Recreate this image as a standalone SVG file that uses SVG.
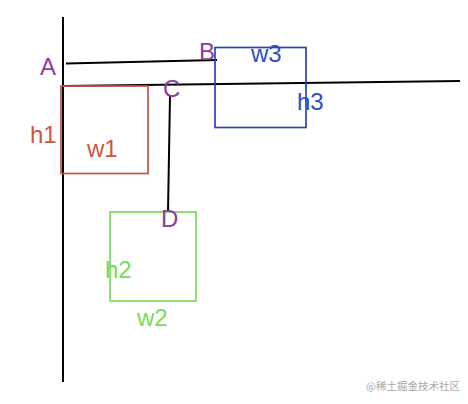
<svg xmlns="http://www.w3.org/2000/svg" width="468" height="404" viewBox="0 0 468 404">
<style>
.ln{stroke:#000;stroke-width:2;fill:none}
.box{fill:none;stroke-width:1.7}
.t{font-family:"Liberation Sans",Arial,sans-serif;font-size:24px}
.pt{fill:#8b3d9c}
.wm{font-family:"Noto Sans CJK SC","Liberation Sans",sans-serif;font-size:10.5px;fill:#a8a8a8}
</style>
<rect width="468" height="404" fill="#fff"/>
<g id="connectors">
<line class="ln" x1="63" y1="17" x2="63" y2="382"/>
<line class="ln" x1="63" y1="86" x2="460" y2="81"/>
<line class="ln" x1="66" y1="63.5" x2="217" y2="60"/>
<line class="ln" x1="170" y1="96" x2="168" y2="212"/>
</g>
<g id="box1">
<rect class="box" x="61" y="86" width="87" height="87.5" stroke="#c4533f"/>
<text class="t" x="30" y="143" fill="#d0553f">h1</text>
<text class="t" x="87" y="157" fill="#d0553f">w1</text>
</g>
<g id="box3">
<rect class="box" x="215" y="47.5" width="91" height="80" stroke="#2746b0"/>
<text class="t" x="251" y="62" fill="#2e4fc4">w3</text>
<text class="t" x="297" y="110" fill="#2e4fc4">h3</text>
</g>
<g id="box2">
<rect class="box" x="110" y="212" width="86" height="89" stroke="#7bdc5c"/>
<text class="t" x="105" y="278" fill="#76de52">h2</text>
<text class="t" x="137" y="326" fill="#76de52">w2</text>
</g>
<g id="points">
<text class="t pt" x="40" y="75">A</text>
<text class="t pt" x="199" y="60">B</text>
<text class="t pt" x="163" y="97">C</text>
<text class="t pt" x="161" y="227">D</text>
</g>
<text class="wm" x="366" y="390">@稀土掘金技术社区</text>
</svg>
